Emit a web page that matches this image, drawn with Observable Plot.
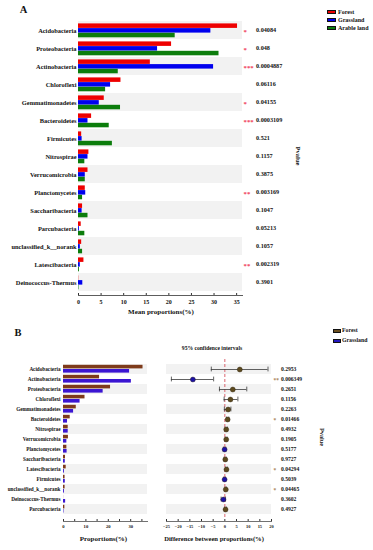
<!DOCTYPE html>
<html><head><meta charset="utf-8">
<script src="https://cdn.jsdelivr.net/npm/d3@7"></script>
<script src="https://cdn.jsdelivr.net/npm/@observablehq/plot@0.6"></script>
<style>
html,body{margin:0;padding:0;background:#fff;}
#chart{position:relative;width:373px;height:550px;overflow:hidden;font-family:"Liberation Serif","DejaVu Serif",serif;font-weight:bold;color:#111;background:#fff;}
.t{position:absolute;white-space:nowrap;line-height:1;}
.sw{position:absolute;box-sizing:border-box;border:0.6px solid #111;}
</style></head><body><div id="chart"></div>
<script>
// ---------- Panel A data ----------
const seriesA = ["Forest", "Grassland", "Arable land"];
const colorsA = ["#ee0000", "#0000ee", "#0c7d0c"];
const phylaA = ["Acidobacteria","Proteobacteria","Actinobacteria","Chloroflexi","Gemmatimonadetes","Bacteroidetes","Firmicutes","Nitrospirae","Verrucomicrobia","Planctomycetes","Saccharibacteria","Parcubacteria","unclassified_k__norank","Latescibacteria","Deinococcus-Thermus"];
const forestA = [35.2, 20.6, 15.9, 9.4, 5.7, 2.9, 0.7, 2.3, 2.1, 1.5, 0.9, 0.6, 0.7, 1.2, 0.05];
const grassA  = [29.3, 17.5, 29.9, 7.1, 4.6, 2.1, 0.8, 2.1, 1.5, 1.6, 0.8, 0.2, 0.4, 0.4, 0.95];
const arableA = [21.4, 31.1, 8.8, 6.0, 9.3, 6.8, 7.5, 1.4, 1.5, 0.9, 2.1, 1.4, 0.9, 0.2, 0.1];
const pvalA  = ["0.04084","0.048","0.0004887","0.06116","0.04155","0.0003109","0.521","0.1157","0.3875","0.003169","0.1047","0.05213","0.1057","0.002319","0.3901"];
const starsA = ["*","*","***","","*","***","","","","**","","","","**",""];
const ticksA = [0, 5, 10, 15, 20, 25, 30, 35];
const xMaxA = 36.3;

// ---------- Panel B data ----------
const seriesB = ["Forest", "Grassland"];
const barColorsB = ["#7e3b1b", "#3b16d2"];
const dotColorsB = ["#5d4a1e", "#1d12a6"];
const phylaB = ["Acidobacteria","Actinobacteria","Proteobacteria","Chloroflexi","Gemmatimonadetes","Bacteroidetes","Nitrospirae","Verrucomicrobia","Planctomycetes","Saccharibacteria","Latescibacteria","Firmicutes","unclassified_k__norank","Deinococcus-Thermus","Parcubacteria"];
const forestB = [35.5, 16.1, 21.0, 9.6, 5.7, 3.0, 2.1, 2.2, 1.5, 0.9, 1.2, 0.7, 0.7, 0.05, 0.6];
const grassB  = [29.5, 30.3, 17.7, 7.4, 4.5, 1.8, 2.1, 1.5, 1.6, 0.8, 0.4, 0.8, 0.4, 0.95, 0.2];
const diffB   = [6.4, -13.7, 3.4, 2.4, 1.4, 1.2, 0.6, 0.6, -0.1, 0.2, 0.7, -0.1, 0.4, -0.6, 0.3];
const ciLowB  = [-5.8, -22.9, -2.3, -0.3, -0.2, 0.7, 0.1, 0.2, -0.6, -0.3, 0.3, -0.5, 0.1, -1.6, -0.1];
const ciHighB = [18.5, -4.8, 9.4, 5.6, 2.6, 1.7, 1.1, 1.0, 0.4, 0.6, 1.1, 0.3, 0.7, 0.3, 0.7];
const pvalB  = ["0.2953","0.006349","0.2651","0.1156","0.2263","0.01466","0.4932","0.1905","0.5177","0.9727","0.04294","0.5039","0.04465","0.3602","0.4927"];
const starsB = ["","**","","","","*","","","","","*","","*","",""];
const ticksBL = [0, 5, 10, 15, 20, 25, 30, 35];
const xMaxBL = 37.5;
const ticksBR = [-25, -20, -15, -10, -5, 0, 5, 10, 15, 20];

// ---------- helpers ----------
const root = document.getElementById("chart");
function txt(s, x, y, size, opts = {}) {
  const d = document.createElement("div");
  d.className = "t"; d.textContent = s;
  d.style.left = x + "px"; d.style.top = y + "px"; d.style.fontSize = size + "px";
  if (opts.color) d.style.color = opts.color;
  const a = opts.anchor || "middle";
  const tx = a === "start" ? "0" : a === "end" ? "-100%" : "-50%";
  d.style.transform = `translate(${tx},-50%)` + (opts.rotate ? ` rotate(${opts.rotate}deg)` : "");
  root.appendChild(d);
}
function swatch(x, y, w, h, color) {
  const d = document.createElement("div");
  d.className = "sw";
  Object.assign(d.style, {left: x + "px", top: (y - h / 2) + "px", width: w + "px", height: h + "px", background: color});
  root.appendChild(d);
}
function place(svg, left, top) {
  svg.style.position = "absolute";
  svg.style.left = left + "px";
  svg.style.top = top + "px";
  svg.style.background = "transparent";
  svg.style.overflow = "visible";
  svg.style.maxWidth = "none";
  root.appendChild(svg);
}
const baseStyle = {fontFamily: '"Liberation Serif", serif', fontWeight: "bold", color: "#111", background: "transparent"};

// ---------- Panel A ----------
const rowsA = phylaA.map((p, i) => ({phylum: p, forest: forestA[i], grass: grassA[i], arable: arableA[i], p: pvalA[i], star: starsA[i], shade: i % 2 === 0}));
const topA = 19, botA = 292;
const bwA = (botA - topA) / phylaA.length;
const barHA = 4.7, padA = 2.4;
const plotA = Plot.plot({
  width: 373, height: 320,
  marginLeft: 78, marginRight: 131, marginTop: topA, marginBottom: 25,
  style: baseStyle,
  x: {domain: [0, xMaxA], label: null},
  y: {domain: phylaA, padding: 0, insetBottom: 3, label: null},
  marks: [
    Plot.barX(rowsA.filter(d => d.shade), {x1: 0, x2: xMaxA, y: "phylum", fill: "#f2f2f2"}),
    Plot.barX(rowsA, {x: "forest", y: "phylum", fill: colorsA[0], insetTop: padA, insetBottom: bwA - padA - barHA}),
    Plot.barX(rowsA, {x: "grass", y: "phylum", fill: colorsA[1], insetTop: padA + barHA, insetBottom: bwA - padA - 2 * barHA}),
    Plot.barX(rowsA, {x: "arable", y: "phylum", fill: colorsA[2], insetTop: padA + 2 * barHA, insetBottom: bwA - padA - 3 * barHA}),
    Plot.frame({anchor: "bottom", stroke: "#333", strokeWidth: 0.8}),
    Plot.axisX({ticks: ticksA, tickSize: -2, tickPadding: 6, fontSize: 6, label: null, stroke: "#333"}),
    Plot.axisY({tickSize: 0, tickPadding: 2, fontSize: 6.4, label: null}),
    Plot.text(rowsA, {y: "phylum", text: "star", frameAnchor: "right", textAnchor: "start", dx: 1, dy: 1.4, fill: "#f0405a", fontSize: 6.8}),
    Plot.text(rowsA, {y: "phylum", text: "p", frameAnchor: "right", textAnchor: "start", dx: 13.5, fontSize: 6.2})
  ]
});
place(plotA, 0, 0);

txt("A", 23.5, 9.5, 10.5);
seriesA.forEach((s, i) => {
  const y = 12.3 + i * 7.9;
  swatch(327, y, 9, 4, colorsA[i]);
  txt(s, 338, y, 6, {anchor: "start"});
});
txt("Pvalue", 297.5, 156, 6.5, {rotate: 90});
txt("Mean proportions(%)", 161, 312, 7);

// ---------- Panel B ----------
const rowsB = phylaB.map((p, i) => ({phylum: p, forest: forestB[i], grass: grassB[i], diff: diffB[i], lo: ciLowB[i], hi: ciHighB[i], p: pvalB[i], star: starsB[i], shade: i % 2 === 0}));
const topB = 359, botB = 518, svgTopB = 350;
const bwB = (botB - topB) / phylaB.length;
const barHB = 4.2, padB = 0.8;

const plotBL = Plot.plot({
  width: 160, height: 200,
  marginLeft: 63, marginRight: 13, marginTop: topB - svgTopB, marginBottom: 29,
  style: baseStyle,
  x: {domain: [0, xMaxBL], label: null},
  y: {domain: phylaB, padding: 0, insetBottom: 3, label: null},
  marks: [
    Plot.barX(rowsB.filter(d => d.shade), {x1: 0, x2: xMaxBL, y: "phylum", fill: "#f2f2f2"}),
    Plot.barX(rowsB, {x: "forest", y: "phylum", fill: barColorsB[0], insetTop: padB, insetBottom: bwB - padB - barHB}),
    Plot.barX(rowsB, {x: "grass", y: "phylum", fill: barColorsB[1], insetTop: padB + barHB, insetBottom: bwB - padB - 2 * barHB}),
    Plot.frame({anchor: "bottom", stroke: "#333", strokeWidth: 0.7}),
    Plot.axisX({ticks: ticksBL, tickSize: -2, tickPadding: 5, fontSize: 4.6, label: null, stroke: "#333", tickFormat: d => d % 10 === 0 ? d : ""}),
    Plot.axisY({tickSize: 0, tickPadding: 3, fontSize: 5.2, label: null})
  ]
});
place(plotBL, 0, svgTopB);

const plotBR = Plot.plot({
  width: 223, height: 200,
  marginLeft: 16, marginRight: 102, marginTop: topB - svgTopB, marginBottom: 29,
  style: baseStyle,
  x: {domain: [-25, 20], label: null},
  y: {domain: phylaB, padding: 0, insetBottom: 3, label: null, axis: null},
  marks: [
    Plot.barX(rowsB.filter(d => d.shade), {x1: -25, x2: 20, y: "phylum", fill: "#f2f2f2"}),
    Plot.ruleX([0], {stroke: "#d2404e", strokeDasharray: "3,2", strokeWidth: 0.8, insetBottom: 3}),
    Plot.ruleY(rowsB, {y: "phylum", x1: "lo", x2: "hi", stroke: "#3a3a3a", strokeWidth: 0.8}),
    Plot.tickX(rowsB, {x: "lo", y: "phylum", stroke: "#3a3a3a", strokeWidth: 0.8, insetTop: 2.6, insetBottom: 2.6}),
    Plot.tickX(rowsB, {x: "hi", y: "phylum", stroke: "#3a3a3a", strokeWidth: 0.8, insetTop: 2.6, insetBottom: 2.6}),
    Plot.dot(rowsB, {x: "diff", y: "phylum", r: 2.5, fill: d => d.diff >= 0 ? dotColorsB[0] : dotColorsB[1], stroke: "#2a2010", strokeWidth: 0.4}),
    Plot.frame({anchor: "bottom", stroke: "#333", strokeWidth: 0.7}),
    Plot.axisX({ticks: ticksBR, tickSize: -2, tickPadding: 5, fontSize: 4.4, label: null, stroke: "#333"}),
    Plot.text(rowsB, {y: "phylum", text: "star", frameAnchor: "right", textAnchor: "start", dx: 2, dy: 1.2, fill: "#a8825a", fontSize: 5.4}),
    Plot.text(rowsB, {y: "phylum", text: "p", frameAnchor: "right", textAnchor: "start", dx: 9.5, fontSize: 5.6})
  ]
});
place(plotBR, 150, svgTopB);

txt("B", 18, 333, 10.5);
seriesB.forEach((s, i) => {
  const y = 330.7 + i * 10;
  swatch(332.5, y, 8, 4, i === 0 ? "#6a4e1e" : "#2418c0");
  txt(s, 342, y, 5.8, {anchor: "start"});
});
txt("95% confidence intervals", 212, 349, 5.6);
txt("Pvalue", 322, 437, 6.3, {rotate: 90});
txt("Proportions(%)", 103.5, 539, 7);
txt("Difference between proportions(%)", 214, 539, 6.6);
</script></body></html>
